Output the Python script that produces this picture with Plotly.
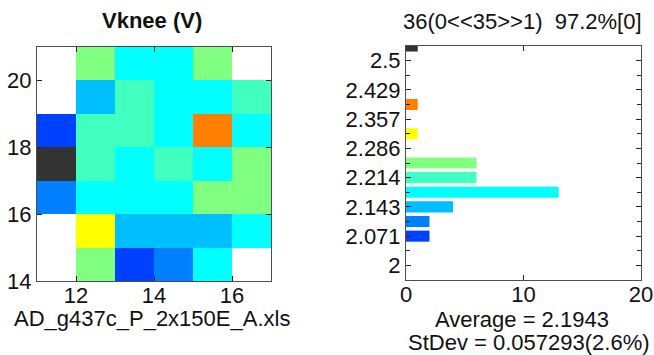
import plotly.graph_objects as go

# ---------------- data ----------------
# heatmap: wafer map of bin codes (index into bin_colors); None = no die
x_centers = [11.5, 12.5, 13.5, 14.5, 15.5, 16.5]
y_centers = [14.5, 15.5, 16.5, 17.5, 18.5, 19.5, 20.5]
bin_code_grid = [
    [None, 5, 0, 1, 3, None],
    [None, 7, 2, 2, 2, 3],
    [1, 3, 3, 3, 5, 5],
    [10, 4, 3, 4, 3, 5],
    [0, 4, 4, 3, 9, 3],
    [None, 2, 4, 3, 3, 4],
    [None, 5, 3, 3, 5, None],
]
bin_colors = ["#0040FF", "#0080FF", "#00BFFF", "#00FFFF", "#40FFBF", "#80FF80",
              "#BFFF40", "#FFFF00", "#FFBF00", "#FF8000", "#333333"]

# histogram
hist_centers = [2.0714, 2.1071, 2.1429, 2.1786, 2.2143, 2.25, 2.3214, 2.3929, 2.5357]
hist_counts = [2, 2, 4, 13, 6, 6, 1, 1, 1]
hist_colors = ["#0040FF", "#0080FF", "#00BFFF", "#00FFFF", "#40FFBF", "#80FF80",
               "#FFFF00", "#FF8000", "#333333"]
hist_tickvals = [2.0, 2.0714, 2.1429, 2.2143, 2.2857, 2.3571, 2.4286, 2.5]
hist_ticktext = ["2", "2.071", "2.143", "2.214", "2.286", "2.357", "2.429", "2.5"]
hist_minor = [2.0357, 2.1071, 2.1786, 2.25, 2.3214, 2.3929, 2.4643]

map_xticks = [12, 14, 16]
map_yticks = [14, 16, 18, 20]
hist_xticks = [0, 10, 20]

title_text = "Vknee (V)"
file_text = "AD_g437c_P_2x150E_A.xls"
hist_title = "36(0<<35>>1)\u00a0\u00a097.2%[0]"
avg_text = "Average = 2.1943"
std_text = "StDev = 0.057293(2.6%)"

# ---------------- figure ----------------
W, H = 654, 355
FONT = "Liberation Sans, Arial, sans-serif"
LINE = "#4d4d4d"

n = len(bin_colors)
cscale = []
for i, c in enumerate(bin_colors):
    cscale.append([i / n, c])
    cscale.append([(i + 1) / n, c])

fig = go.Figure()
fig.add_trace(go.Heatmap(
    x=x_centers, y=y_centers, z=bin_code_grid,
    colorscale=cscale, zmin=-0.5, zmax=n - 0.5,
    showscale=False, xaxis="x", yaxis="y", hoverongaps=False,
))
fig.add_trace(go.Bar(
    x=hist_counts, y=hist_centers, orientation="h",
    marker=dict(color=hist_colors, line=dict(width=0)),
    width=0.027, xaxis="x2", yaxis="y2",
))

def px_x(p):
    return p / W

def px_y(p):
    return 1 - p / H

ax_common = dict(showline=True, linecolor=LINE, linewidth=1, mirror="ticks",
                 ticks="inside", ticklen=5, tickcolor="#222", showgrid=False,
                 zeroline=False, automargin=False,
                 tickfont=dict(family=FONT, size=22, color="#111"))

fig.update_layout(
    template="none",
    width=W, height=H,
    margin=dict(l=0, r=0, t=0, b=0),
    paper_bgcolor="white", plot_bgcolor="white",
    showlegend=False,
    xaxis=dict(domain=[px_x(37), px_x(271)], range=[11, 17], tickvals=map_xticks,
               anchor="y", ticklabelstandoff=-5, **ax_common),
    yaxis=dict(domain=[px_y(281), px_y(47)], range=[14, 21], tickvals=map_yticks,
               anchor="x", ticklabelstandoff=0, **ax_common),
    xaxis2=dict(domain=[px_x(406), px_x(641)], range=[0, 20], tickvals=hist_xticks,
                anchor="y2", ticklabelstandoff=-5, **ax_common),
    yaxis2=dict(domain=[px_y(280), px_y(46)], range=[1.9643, 2.5357],
                tickmode="array", tickvals=hist_tickvals, ticktext=hist_ticktext,
                minor=dict(tickmode="array", tickvals=hist_minor, ticks="inside",
                           ticklen=4, tickcolor="#222"),
                anchor="x2", ticklabelstandoff=0, **ax_common),
)

def ann(text, x, y, size=22, bold=False):
    fig.add_annotation(text=("<b>%s</b>" % text) if bold else text,
                       x=px_x(x), y=px_y(y), xref="paper", yref="paper",
                       xanchor="center", yanchor="middle", showarrow=False,
                       font=dict(family=FONT, size=size, color="#111"))

ann(title_text, 152, 20, bold=True)
ann(hist_title, 522, 21)
ann(file_text, 152, 318)
ann(avg_text, 522, 319)
ann(std_text, 529, 342)

fig.write_html("out.html")
